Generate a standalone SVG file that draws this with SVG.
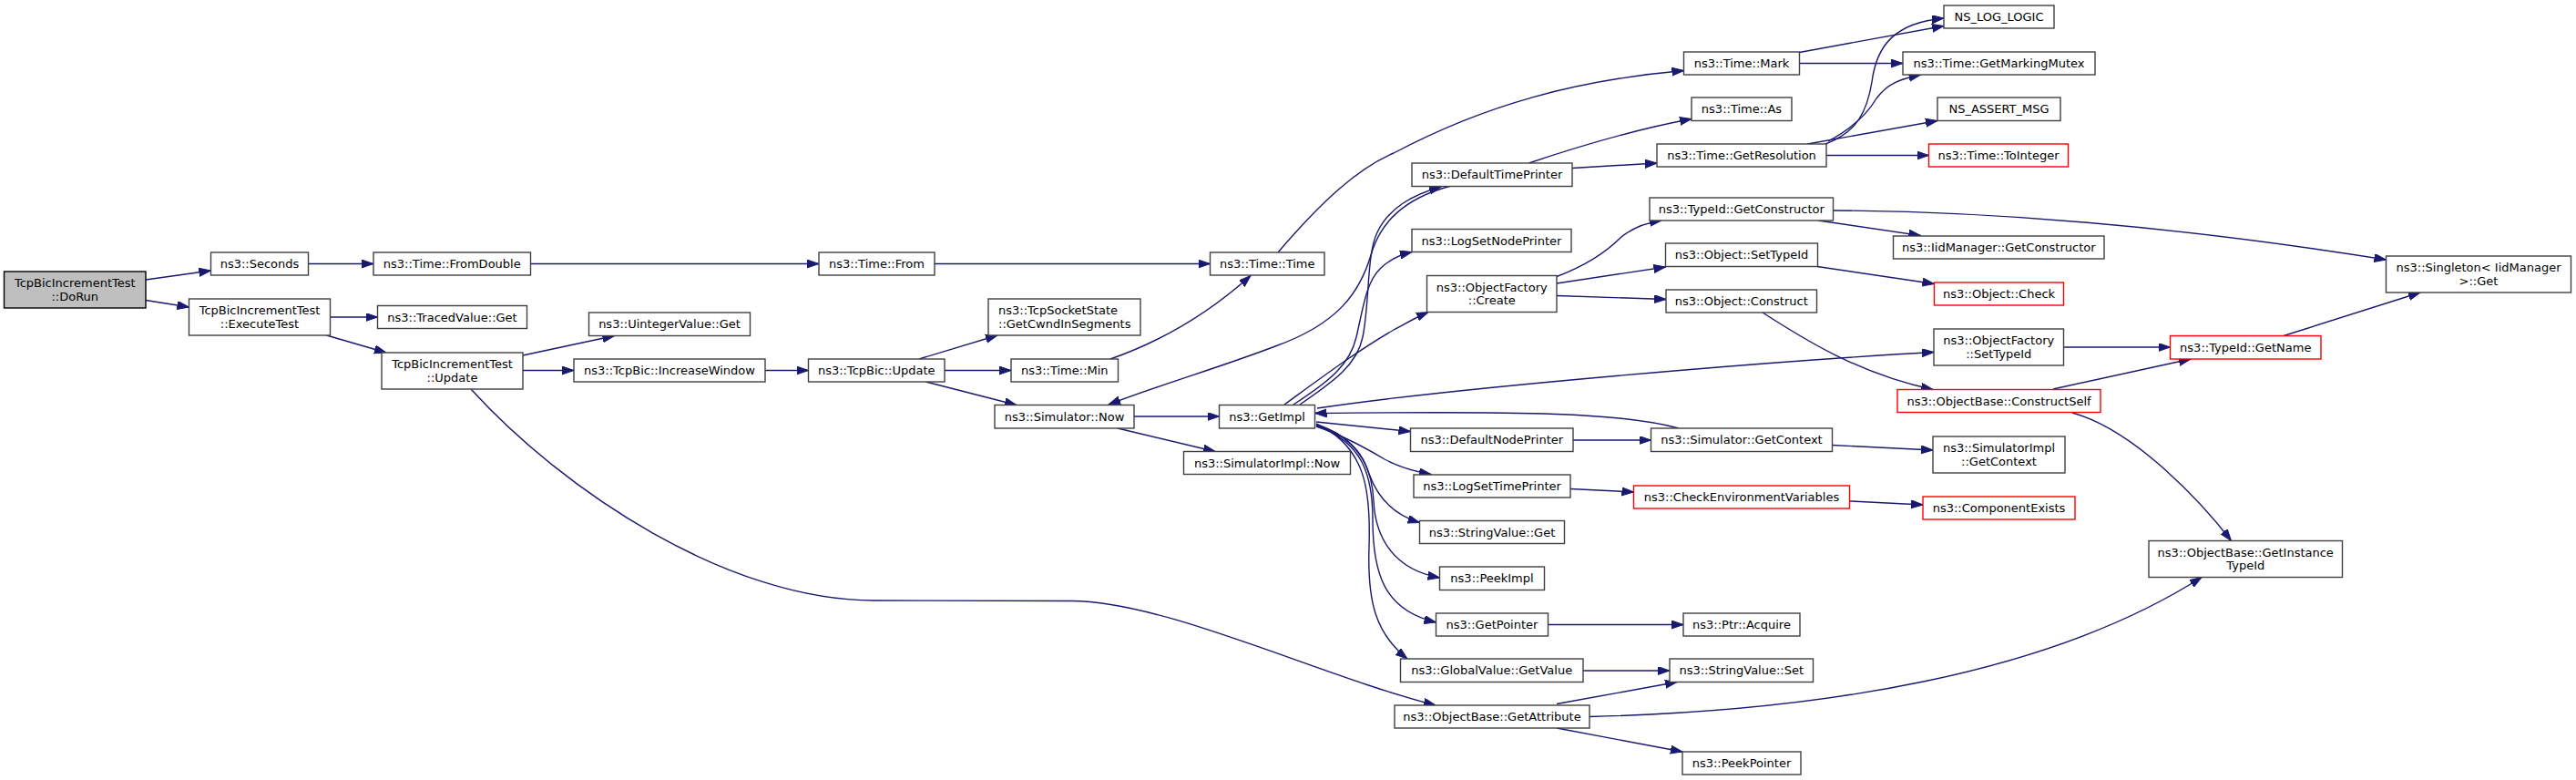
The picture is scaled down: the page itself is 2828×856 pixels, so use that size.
<svg xmlns="http://www.w3.org/2000/svg" width="2828" height="856" viewBox="0 0 2828 856">
<style>
.n rect{fill:#ffffff;stroke:#404040;stroke-width:1.4}
.n.r rect{stroke:#ff0000}
.n.g rect{fill:#bfbfbf;stroke:#000000}
.n text{font-family:"DejaVu Sans","Liberation Sans",sans-serif;font-size:13px;fill:#000000;text-anchor:middle}
#edges path{fill:none;stroke:#191970;stroke-width:1.4;marker-end:url(#ah)}
</style>
<defs>
<marker id="ah" markerUnits="userSpaceOnUse" markerWidth="14" markerHeight="10" refX="13" refY="4.5" orient="auto">
<path d="M0,0 L13,4.5 L0,9 Z" fill="#191970" stroke="#191970" stroke-width="1"/>
</marker>
</defs>
<rect width="2828" height="856" fill="#ffffff"/>
<g id="edges">
<path d="M160,307 L231.5,297"/>
<path d="M160,329.5 L207.5,337"/>
<path d="M338.5,289.5 L410,289.5"/>
<path d="M582.5,289.5 L899,289.5"/>
<path d="M1026,289.5 L1328.5,289.5"/>
<path d="M362.5,348 L414.5,348"/>
<path d="M358.5,368 L424,387"/>
<path d="M574,390 L674.5,368.5"/>
<path d="M574,406.5 L630,406.5"/>
<path d="M517,427 C620,540 800,659 960,659 L1177,659.5 C1280,660 1450,742 1576,774"/>
<path d="M840,406.5 L887.5,406.5"/>
<path d="M1009,394 L1095,368"/>
<path d="M1037,406.5 L1110,406.5"/>
<path d="M1016.5,419 L1116,444.5"/>
<path d="M1219,394 C1265,378 1320,350 1373,302.5"/>
<path d="M1403,277 C1450,222 1490,185 1530,168 C1630,115 1730,88 1848.5,77.5"/>
<path d="M1245,457 L1338.5,457"/>
<path d="M1227,470 L1334,495.5"/>
<path d="M1593,204 C1540,218 1515,245 1505,280 C1493,320 1470,355 1400,380 C1340,403 1280,420 1217,444"/>
<path d="M1427,444 C1465,418 1490,400 1496,370 C1504,330 1500,280 1512,255 C1525,228 1550,214 1582,205"/>
<path d="M1420,444 C1460,418 1482,400 1489,370 C1497,335 1500,310 1515,295 C1525,285 1535,280 1550,276.5"/>
<path d="M1410,444 C1450,415 1490,385 1530,362 C1545,354 1555,348 1568,342.5"/>
<path d="M1446,448 C1600,425 1950,396 2123,386.5"/>
<path d="M1843,470 C1780,453 1680,451 1443.5,453.5"/>
<path d="M1445,463 L1548.5,473.5"/>
<path d="M1445,468 C1475,478 1500,492 1520,504 C1535,512 1550,517 1571,520.5"/>
<path d="M1445,466 C1475,475 1495,495 1503,520 C1512,545 1530,565 1558.5,573.5"/>
<path d="M1445,466 C1490,480 1506,510 1508,550 C1510,590 1530,625 1580.5,634"/>
<path d="M1445,467 C1495,485 1507,520 1507,570 C1507,630 1520,670 1576.5,683"/>
<path d="M1445,465 C1500,490 1505,540 1503,600 C1501,660 1510,695 1545,723"/>
<path d="M1975.5,57.5 L2134,28.5"/>
<path d="M1975.5,69.5 L2089,69.5"/>
<path d="M2004,158 C2040,145 2050,120 2055,90 C2060,50 2080,25 2134,20"/>
<path d="M2007,155 C2035,140 2050,125 2060,108 C2072,92 2085,87 2108.5,82"/>
<path d="M1984.5,158 L2127,132.5"/>
<path d="M2005,170.5 L2117.5,170.5"/>
<path d="M1678.5,179 C1720,165 1790,143 1857,130.5"/>
<path d="M1726,184.5 L1819,179"/>
<path d="M2012.5,231 C2200,232 2400,250 2619.5,285"/>
<path d="M1996,242 L2108.5,258.5"/>
<path d="M1995,292.5 L2123.5,311.5"/>
<path d="M1935,343 C1980,372 2040,410 2122,427.5"/>
<path d="M1709,303.5 C1745,290 1765,275 1780,260 C1795,248 1810,244 1824,242"/>
<path d="M1709,311 L1828.5,293"/>
<path d="M1709,324.5 L1829,328.5"/>
<path d="M2265.5,381 L2382.5,381"/>
<path d="M2254,427 L2405,394"/>
<path d="M2507,368.5 L2657,321"/>
<path d="M2275,453 C2345,472 2420,555 2449.5,593.5"/>
<path d="M1745,786.5 C2000,780 2250,740 2417,633.5"/>
<path d="M1709,772.5 L1841,748.5"/>
<path d="M1709,799 L1847,825"/>
<path d="M1738,736 L1833,736"/>
<path d="M1699,685.5 L1848,685.5"/>
<path d="M1724,536.5 L1793.5,540"/>
<path d="M2030.5,550 L2111,554"/>
<path d="M1727,483 L1812.5,483"/>
<path d="M2011,488.5 L2122,494"/>
</g>
<g id="n1" class="n g"><rect x="4.5" y="298" width="155.5" height="40"/><text x="82.25" y="315.2">TcpBicIncrementTest</text><text x="82.25" y="329.5">::DoRun</text></g>
<g id="n2" class="n"><rect x="231.5" y="277" width="107" height="25"/><text x="285" y="294.1">ns3::Seconds</text></g>
<g id="n3" class="n"><rect x="410" y="277" width="172.5" height="25"/><text x="496.25" y="294.1">ns3::Time::FromDouble</text></g>
<g id="n4" class="n"><rect x="899" y="277" width="127" height="25"/><text x="962.5" y="294.1">ns3::Time::From</text></g>
<g id="n5" class="n"><rect x="1328.5" y="277" width="125.5" height="25"/><text x="1391.25" y="294.1">ns3::Time::Time</text></g>
<g id="n6" class="n"><rect x="207.5" y="328" width="155" height="40"/><text x="285" y="345.2">TcpBicIncrementTest</text><text x="285" y="359.5">::ExecuteTest</text></g>
<g id="n7" class="n"><rect x="414.5" y="335.5" width="164" height="25"/><text x="496.5" y="352.6">ns3::TracedValue::Get</text></g>
<g id="n8" class="n"><rect x="419" y="387" width="155" height="40"/><text x="496.5" y="404.2">TcpBicIncrementTest</text><text x="496.5" y="418.5">::Update</text></g>
<g id="n9" class="n"><rect x="646.5" y="343" width="177" height="25.5"/><text x="735" y="360.3">ns3::UintegerValue::Get</text></g>
<g id="n10" class="n"><rect x="630" y="394" width="210" height="25"/><text x="735" y="411.1">ns3::TcpBic::IncreaseWindow</text></g>
<g id="n11" class="n"><rect x="887.5" y="394" width="149.5" height="25"/><text x="962.25" y="411.1">ns3::TcpBic::Update</text></g>
<g id="n12" class="n"><rect x="1085" y="328" width="167" height="40"/><text x="1096" y="345.2" style="text-anchor:start">ns3::TcpSocketState</text><text x="1096" y="359.5" style="text-anchor:start">::GetCwndInSegments</text></g>
<g id="n13" class="n"><rect x="1110" y="394" width="117.5" height="25"/><text x="1168.75" y="411.1">ns3::Time::Min</text></g>
<g id="n14" class="n"><rect x="1092" y="444.5" width="153" height="25.5"/><text x="1168.5" y="461.8">ns3::Simulator::Now</text></g>
<g id="n15" class="n"><rect x="1338.5" y="444.5" width="105" height="25.5"/><text x="1391" y="461.8">ns3::GetImpl</text></g>
<g id="n16" class="n"><rect x="1299.5" y="495.5" width="183" height="25"/><text x="1391" y="512.6">ns3::SimulatorImpl::Now</text></g>
<g id="n17" class="n"><rect x="1848.5" y="57" width="127" height="25"/><text x="1912" y="74.1">ns3::Time::Mark</text></g>
<g id="n18" class="n"><rect x="1857" y="107" width="110" height="25.5"/><text x="1912" y="124.3">ns3::Time::As</text></g>
<g id="n19" class="n"><rect x="1819" y="158" width="186" height="25"/><text x="1912" y="175.1">ns3::Time::GetResolution</text></g>
<g id="n20" class="n"><rect x="1550" y="179" width="176" height="25.5"/><text x="1638" y="196.3">ns3::DefaultTimePrinter</text></g>
<g id="n21" class="n"><rect x="1811" y="217" width="201.5" height="25"/><text x="1911.75" y="234.1">ns3::TypeId::GetConstructor</text></g>
<g id="n22" class="n"><rect x="1550" y="251.5" width="175" height="25"/><text x="1637.5" y="268.6">ns3::LogSetNodePrinter</text></g>
<g id="n23" class="n"><rect x="1828.5" y="267" width="167" height="25.5"/><text x="1912" y="284.3">ns3::Object::SetTypeId</text></g>
<g id="n24" class="n"><rect x="1566.5" y="302.5" width="142.5" height="40"/><text x="1637.75" y="319.7">ns3::ObjectFactory</text><text x="1637.75" y="334">::Create</text></g>
<g id="n25" class="n"><rect x="1829" y="318" width="165.5" height="25"/><text x="1911.75" y="335.1">ns3::Object::Construct</text></g>
<g id="n26" class="n"><rect x="1548.5" y="470" width="178.5" height="25.5"/><text x="1637.75" y="487.3">ns3::DefaultNodePrinter</text></g>
<g id="n27" class="n"><rect x="1812.5" y="470" width="199" height="25.5"/><text x="1912" y="487.3">ns3::Simulator::GetContext</text></g>
<g id="n28" class="n"><rect x="1552" y="521" width="172" height="25"/><text x="1638" y="538.1">ns3::LogSetTimePrinter</text></g>
<g id="n29" class="n r"><rect x="1793.5" y="533" width="237" height="25"/><text x="1912" y="550.1">ns3::CheckEnvironmentVariables</text></g>
<g id="n30" class="n"><rect x="1558.5" y="571.5" width="159" height="25"/><text x="1638" y="588.6">ns3::StringValue::Get</text></g>
<g id="n31" class="n"><rect x="1580.5" y="622" width="115" height="25.5"/><text x="1638" y="639.3">ns3::PeekImpl</text></g>
<g id="n32" class="n"><rect x="1576.5" y="673" width="123" height="25"/><text x="1638" y="690.1">ns3::GetPointer</text></g>
<g id="n33" class="n"><rect x="1848" y="673" width="128" height="25"/><text x="1912" y="690.1">ns3::Ptr::Acquire</text></g>
<g id="n34" class="n"><rect x="1537.5" y="723" width="200.5" height="25.5"/><text x="1637.75" y="740.3">ns3::GlobalValue::GetValue</text></g>
<g id="n35" class="n"><rect x="1833" y="723" width="157.5" height="25.5"/><text x="1911.75" y="740.3">ns3::StringValue::Set</text></g>
<g id="n36" class="n"><rect x="1531" y="774" width="214" height="25"/><text x="1638" y="791.1">ns3::ObjectBase::GetAttribute</text></g>
<g id="n37" class="n"><rect x="1847" y="825" width="130" height="25"/><text x="1912" y="842.1">ns3::PeekPointer</text></g>
<g id="n38" class="n"><rect x="2134" y="6" width="121" height="25"/><text x="2194.5" y="23.1">NS_LOG_LOGIC</text></g>
<g id="n39" class="n"><rect x="2089" y="57" width="211" height="25"/><text x="2194.5" y="74.1">ns3::Time::GetMarkingMutex</text></g>
<g id="n40" class="n"><rect x="2127" y="107" width="135" height="25.5"/><text x="2194.5" y="124.3">NS_ASSERT_MSG</text></g>
<g id="n41" class="n r"><rect x="2117.5" y="158" width="153" height="25"/><text x="2194" y="175.1">ns3::Time::ToInteger</text></g>
<g id="n42" class="n"><rect x="2078.5" y="259" width="231.5" height="25"/><text x="2194.25" y="276.1">ns3::IidManager::GetConstructor</text></g>
<g id="n43" class="n r"><rect x="2123.5" y="310" width="142" height="25"/><text x="2194.5" y="327.1">ns3::Object::Check</text></g>
<g id="n44" class="n"><rect x="2123" y="361" width="142.5" height="40"/><text x="2194.25" y="378.2">ns3::ObjectFactory</text><text x="2194.25" y="392.5">::SetTypeId</text></g>
<g id="n45" class="n r"><rect x="2083" y="427.5" width="223" height="25"/><text x="2194.5" y="444.6">ns3::ObjectBase::ConstructSelf</text></g>
<g id="n46" class="n r"><rect x="2382.5" y="368.5" width="165.5" height="25.5"/><text x="2465.25" y="385.8">ns3::TypeId::GetName</text></g>
<g id="n47" class="n"><rect x="2619.5" y="281" width="203" height="40"/><text x="2721" y="298.2">ns3::Singleton&lt; IidManager</text><text x="2721" y="312.5">&gt;::Get</text></g>
<g id="n48" class="n"><rect x="2122" y="479" width="145" height="40"/><text x="2194.5" y="496.2">ns3::SimulatorImpl</text><text x="2194.5" y="510.5">::GetContext</text></g>
<g id="n49" class="n r"><rect x="2111" y="545" width="167" height="25"/><text x="2194.5" y="562.1">ns3::ComponentExists</text></g>
<g id="n50" class="n"><rect x="2359" y="593.5" width="212.5" height="40"/><text x="2465.25" y="610.7">ns3::ObjectBase::GetInstance</text><text x="2465.25" y="625">TypeId</text></g>
</svg>
